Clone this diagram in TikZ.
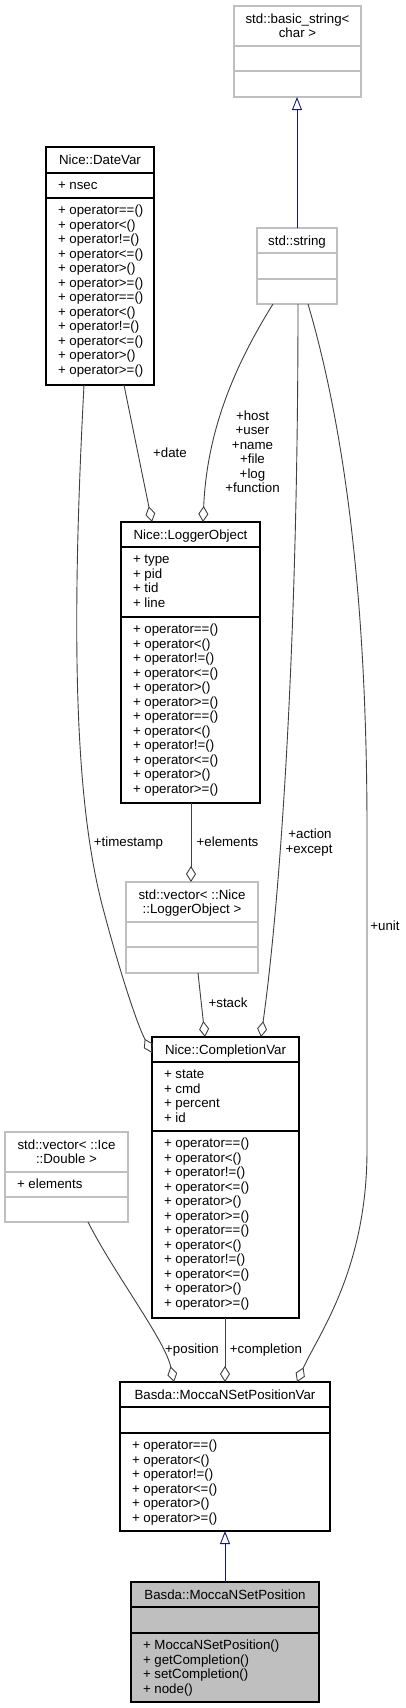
\documentclass[tikz,border=0pt]{standalone}
\usepackage{fontspec}
\setmainfont{Liberation Sans}
\usetikzlibrary{arrows.meta}
\definecolor{edgegray}{HTML}{404040}
\definecolor{lightbox}{HTML}{BFBFBF}
\definecolor{inhblue}{HTML}{191970}
\definecolor{selfill}{HTML}{BFBFBF}
\newcommand\umlrows[4]{\foreach \t [count=\i from 0] in {#4} \node[txt] (#1-\i) at (#2,{#3+14.5*\i}) {\t};}
\newcommand\umlsep[4]{\draw[#4, line width=1.2pt] (#1,#3) -- (#2,#3);}
\begin{document}
\begin{tikzpicture}[x=1pt,y=-1pt,
  every node/.style={font=\fontsize{13.3}{14.5}\selectfont, inner sep=0pt, outer sep=0pt},
  boxA/.style={draw=black, line width=1.2pt, anchor=north west},
  boxB/.style={draw=lightbox, line width=1.2pt, anchor=north west},
  txt/.style={anchor=base west},
  ttl/.style={anchor=base},
  lbl/.style={anchor=base},
  agg/.style={draw=edgegray, line width=0.9pt, -{Diamond[open,length=16pt,width=10pt,line width=0.9pt]}},
  inh/.style={draw=inhblue, line width=0.9pt, -{Triangle[open,length=13pt,width=10pt,line width=0.9pt]}}
]
\path[fill=white, use as bounding box] (0,0) rectangle (405,1708);

% std::basic_string<char>
\node[boxB, minimum width=127pt, minimum height=91pt] (bs) at (234,6) {};
\umlsep{234}{361}{46}{lightbox}
\umlsep{234}{361}{71}{lightbox}
\node[ttl] (bs-t1) at (297.5,23) {std::basic\_string<};
\node[ttl] (bs-t2) at (297.5,37.5) {char >};

% std::string
\node[boxB, minimum width=80pt, minimum height=76pt] (str) at (257,228) {};
\umlsep{257}{337}{253}{lightbox}
\umlsep{257}{337}{279}{lightbox}
\node[ttl] (str-t) at (297,245) {std::string};

% Nice::DateVar
\node[boxA, minimum width=108pt, minimum height=238pt] (dv) at (46,147) {};
\umlsep{46}{154}{173}{black}
\umlsep{46}{154}{198}{black}
\node[ttl] (dv-t) at (100,164) {Nice::DateVar};
\node[txt] (dv-a) at (58,189.5) {+ nsec};
\umlrows{dvop}{58}{214.5}{+ operator==(), + operator<(), + operator!=(), + operator<=(), + operator>(), + operator>=(), + operator==(), + operator<(), + operator!=(), + operator<=(), + operator>(), + operator>=()}

% Nice::LoggerObject
\node[boxA, minimum width=139pt, minimum height=281pt] (lo) at (121,522) {};
\umlsep{121}{260}{547}{black}
\umlsep{121}{260}{617}{black}
\node[ttl] (lo-t) at (190.5,539) {Nice::LoggerObject};
\umlrows{loat}{133}{563.5}{+ type, + pid, + tid, + line}
\umlrows{loop}{133}{633.5}{+ operator==(), + operator<(), + operator!=(), + operator<=(), + operator>(), + operator>=(), + operator==(), + operator<(), + operator!=(), + operator<=(), + operator>(), + operator>=()}

% std::vector< ::Nice::LoggerObject >
\node[boxB, minimum width=132pt, minimum height=91pt] (vl) at (126,882) {};
\umlsep{126}{258}{922}{lightbox}
\umlsep{126}{258}{947}{lightbox}
\node[ttl] (vl-t1) at (192,899) {std::vector< ::Nice};
\node[ttl] (vl-t2) at (192,913.5) {::LoggerObject >};

% Nice::CompletionVar
\node[boxA, minimum width=147pt, minimum height=281pt] (cv) at (152,1037) {};
\umlsep{152}{299}{1062}{black}
\umlsep{152}{299}{1131}{black}
\node[ttl] (cv-t) at (225.5,1054) {Nice::CompletionVar};
\umlrows{cvat}{164}{1078.5}{+ state, + cmd, + percent, + id}
\umlrows{cvop}{164}{1147.5}{+ operator==(), + operator<(), + operator!=(), + operator<=(), + operator>(), + operator>=(), + operator==(), + operator<(), + operator!=(), + operator<=(), + operator>(), + operator>=()}

% std::vector< ::Ice::Double >
\node[boxB, minimum width=123pt, minimum height=90pt] (vd) at (5,1132) {};
\umlsep{5}{128}{1172}{lightbox}
\umlsep{5}{128}{1197}{lightbox}
\node[ttl] (vd-t1) at (66.5,1149) {std::vector< ::Ice};
\node[ttl] (vd-t2) at (66.5,1163.5) {::Double >};
\node[txt] (vd-a) at (17,1188.5) {+ elements};

% Basda::MoccaNSetPositionVar
\node[boxA, minimum width=210pt, minimum height=149pt] (mpv) at (120,1382) {};
\umlsep{120}{330}{1407}{black}
\umlsep{120}{330}{1433}{black}
\node[ttl] (mpv-t) at (225,1399) {Basda::MoccaNSetPositionVar};
\umlrows{mpvop}{132}{1449.5}{+ operator==(), + operator<(), + operator!=(), + operator<=(), + operator>(), + operator>=()}

% Basda::MoccaNSetPosition
\node[boxA, fill=selfill, minimum width=188pt, minimum height=120pt] (mp) at (131,1582) {};
\umlsep{131}{319}{1607}{black}
\umlsep{131}{319}{1633}{black}
\node[ttl] (mp-t) at (225,1599) {Basda::MoccaNSetPosition};
\umlrows{mpm}{143}{1649.5}{+ MoccaNSetPosition(), + getCompletion(), + setCompletion(), + node()}

% inheritance
\draw[inh] (297,0 |- str.north) -- (297,0 |- bs.south);
\draw[inh] (225,0 |- mp.north) -- (225,0 |- mpv.south);

% aggregations
\draw[agg] (124,0 |- dv.south) -- (152,0 |- lo.north);
\draw[agg] (273,0 |- str.south) .. controls (235,365) and (207,430) .. (203,0 |- lo.north);
\draw[agg] (298,0 |- str.south) .. controls (298,650) and (280,900) .. (261,0 |- cv.north);
\draw[agg] (308,0 |- str.south) .. controls (345,430) and (367,600) .. (367,830) -- (367,1150) .. controls (367,1270) and (318,1335) .. (297,0 |- mpv.north);
\draw[agg] (84,0 |- dv.south) .. controls (70,650) and (76,810) .. (104,912) .. controls (118,965) and (136,1022) .. (cv.west |- 0,1053);
\draw[agg] (191,0 |- lo.south) -- (191,0 |- vl.north);
\draw[agg] (198,0 |- vl.south) -- (205,0 |- cv.north);
\draw[agg] (88,0 |- vd.south) .. controls (115,1275) and (165,1340) .. (174,0 |- mpv.north);
\draw[agg] (225,0 |- cv.south) -- (225,0 |- mpv.north);

% edge labels
\node[lbl] (l-date) at (170,457.5) {+date};
\node[lbl] (l-h1) at (252.5,420) {+host};
\node[lbl] (l-h2) at (252.5,434.5) {+user};
\node[lbl] (l-h3) at (252.5,449) {+name};
\node[lbl] (l-h4) at (252.5,463.5) {+file};
\node[lbl] (l-h5) at (252.5,478) {+log};
\node[lbl] (l-h6) at (252.5,492.5) {+function};
\node[lbl] (l-ts) at (128.5,846) {+timestamp};
\node[lbl] (l-el) at (227.5,846) {+elements};
\node[lbl] (l-a1) at (310,838.5) {+action};
\node[lbl] (l-a2) at (309,853) {+except};
\node[lbl] (l-unit) at (385,930.5) {+unit};
\node[lbl] (l-stack) at (228,1007.5) {+stack};
\node[lbl] (l-pos) at (192,1353) {+position};
\node[lbl] (l-comp) at (266,1353) {+completion};
\end{tikzpicture}
\end{document}
